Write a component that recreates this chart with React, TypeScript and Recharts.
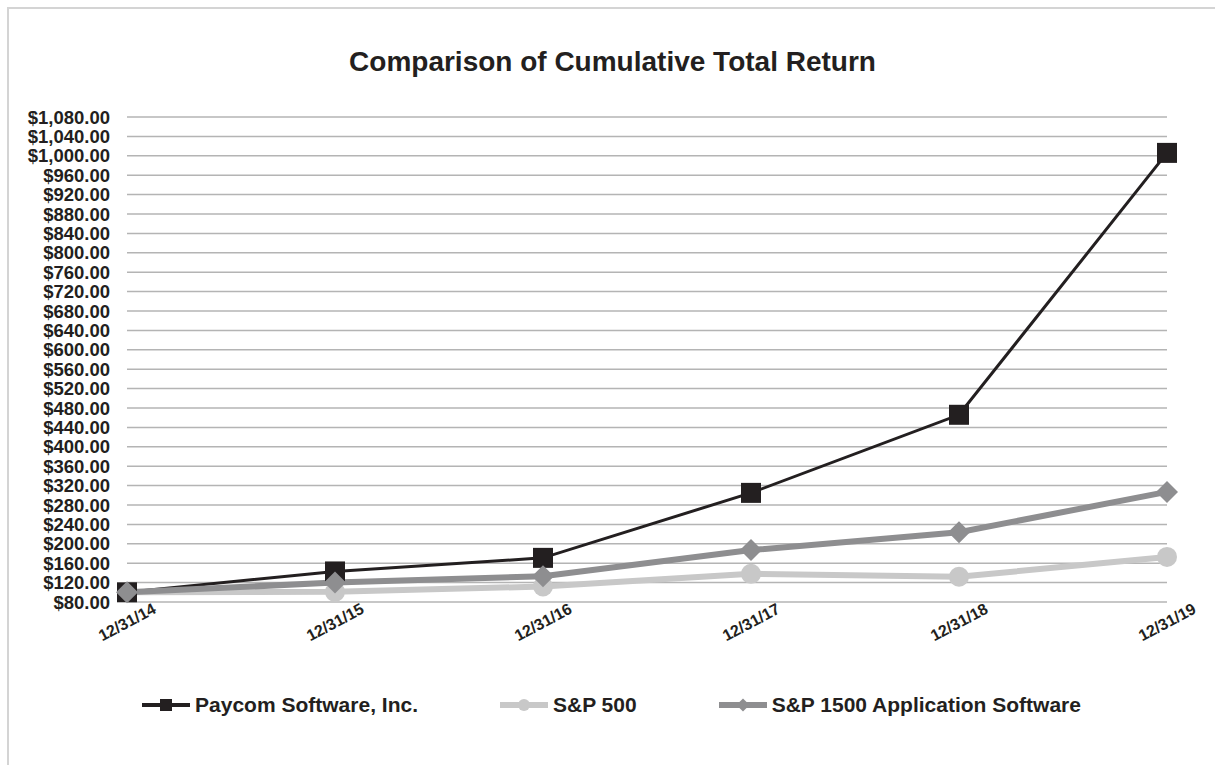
import React from 'react'
import { LineChart, Line, XAxis, YAxis, CartesianGrid, Legend } from 'recharts'

const years = ['12/31/14', '12/31/15', '12/31/16', '12/31/17', '12/31/18', '12/31/19']
const paycom = [100, 143, 171, 305, 466, 1006]
const sp500 = [100, 101, 112, 138, 132, 173]
const sp1500App = [100, 120, 133, 187, 224, 307]
const yTicks = [
  80, 120, 160, 200, 240, 280, 320, 360, 400, 440, 480, 520, 560,
  600, 640, 680, 720, 760, 800, 840, 880, 920, 960, 1000, 1040, 1080,
]

const FONT = '"Liberation Sans", Arial, Helvetica, sans-serif'
const TEXT = '#231f20'

type Shape = 'square' | 'circle' | 'diamond'

const series: { key: string; name: string; color: string; width: number; shape: Shape }[] = [
  { key: 'sp500', name: 'S&P 500', color: '#c8c8c8', width: 6, shape: 'circle' },
  { key: 'paycom', name: 'Paycom Software, Inc.', color: '#231f20', width: 3, shape: 'square' },
  { key: 'sp1500', name: 'S&P 1500 Application Software', color: '#8e8e90', width: 6, shape: 'diamond' },
]
const legendOrder = ['paycom', 'sp500', 'sp1500']

const data = years.map((year, i) => ({
  year,
  paycom: paycom[i],
  sp500: sp500[i],
  sp1500: sp1500App[i],
}))

const money = (v: number) =>
  '$' + v.toLocaleString('en-US', { minimumFractionDigits: 2, maximumFractionDigits: 2 })

function marker(shape: Shape, color: string, cx: number, cy: number, r: number, key?: string) {
  if (shape === 'square') {
    return <rect key={key} x={cx - r} y={cy - r} width={r * 2} height={r * 2} fill={color} />
  }
  if (shape === 'circle') {
    return <circle key={key} cx={cx} cy={cy} r={r} fill={color} />
  }
  const d = r * 1.1
  return (
    <polygon
      key={key}
      points={`${cx},${cy - d} ${cx + d},${cy} ${cx},${cy + d} ${cx - d},${cy}`}
      fill={color}
    />
  )
}

const XTick = ({ x, y, payload }: any) => (
  <g transform={`translate(${x},${y + 20})`}>
    <text
      transform="rotate(-28)"
      textAnchor="middle"
      dy="0.35em"
      fill={TEXT}
      style={{ fontFamily: FONT, fontSize: 16, fontWeight: 700 }}
    >
      {payload.value}
    </text>
  </g>
)

const LegendContent = () => (
  <div
    style={{
      display: 'flex',
      justifyContent: 'center',
      alignItems: 'center',
      gap: 82,
      fontFamily: FONT,
      fontWeight: 700,
      fontSize: 21,
      color: TEXT,
    }}
  >
    {legendOrder.map((k) => {
      const s = series.find((it) => it.key === k)!
      return (
        <div key={k} style={{ display: 'flex', alignItems: 'center' }}>
          <svg width={48} height={20} style={{ marginRight: 5 }}>
            <line x1={0} y1={10} x2={48} y2={10} stroke={s.color} strokeWidth={s.shape === 'square' ? 4 : 6} />
            {marker(s.shape, s.color, 24, 10, 6)}
          </svg>
          <span>{s.name}</span>
        </div>
      )
    })}
  </div>
)

export default function App() {
  return (
    <div style={{ position: 'absolute', left: 0, top: 0, width: 1215, height: 765, overflow: 'hidden', background: '#fff' }}>
      {/* frame: only top and left edges fall inside the picture */}
      <div
        style={{
          position: 'absolute',
          left: 7,
          top: 7,
          width: 1230,
          height: 780,
          border: '2px solid #d4d4d4',
          boxSizing: 'border-box',
        }}
      />
      <div
        style={{
          position: 'absolute',
          left: 7,
          top: 44,
          width: 1211,
          textAlign: 'center',
          fontFamily: FONT,
          fontWeight: 700,
          fontSize: 28,
          lineHeight: '36px',
          color: TEXT,
        }}
      >
        Comparison of Cumulative Total Return
      </div>
      <div style={{ position: 'absolute', left: 0, top: 0 }}>
        <LineChart width={1215} height={765} data={data} margin={{ top: 117, right: 48, bottom: 103, left: 10 }}>
          <CartesianGrid vertical={false} stroke="#b4b4b4" strokeWidth={1.5} />
          <XAxis
            dataKey="year"
            axisLine={false}
            tickLine={false}
            tickSize={0}
            tickMargin={0}
            height={60}
            interval={0}
            tick={<XTick />}
          />
          <YAxis
            domain={[80, 1080]}
            ticks={yTicks}
            interval={0}
            width={117}
            axisLine={false}
            tickLine={false}
            tickSize={0}
            tickMargin={17}
            tickFormatter={money}
            tick={{ fill: TEXT, fontFamily: FONT, fontSize: 18.5, fontWeight: 700 }}
          />
          {series.map((s) => (
            <Line
              key={s.key}
              type="linear"
              dataKey={s.key}
              name={s.name}
              stroke={s.color}
              strokeWidth={s.width}
              isAnimationActive={false}
              dot={(p: any) => marker(s.shape, s.color, p.cx, p.cy, 10, `${s.key}-${p.index}`)}
              activeDot={false}
            />
          ))}
          <Legend
            layout="horizontal"
            verticalAlign="middle"
            align="center"
            content={<LegendContent />}
            wrapperStyle={{ position: 'absolute', left: 7, top: 693, width: 1209 }}
          />
        </LineChart>
      </div>
    </div>
  )
}
